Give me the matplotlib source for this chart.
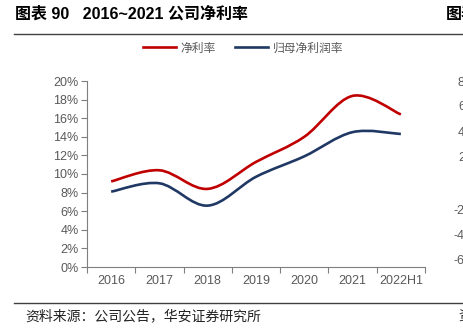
import matplotlib
matplotlib.use('Agg')
import matplotlib.pyplot as plt
from matplotlib.path import Path
from matplotlib.patches import PathPatch
from matplotlib.lines import Line2D

plt.rcParams['font.family'] = ['Liberation Sans', 'Noto Sans CJK SC']

years = ['2016', '2017', '2018', '2019', '2020', '2021', '2022H1']
net_margin = [9.2, 10.4, 8.4, 11.3, 14.0, 18.4, 16.4]        # 净利率, %
parent_margin = [8.1, 9.0, 6.6, 9.7, 11.9, 14.5, 14.3]     # 归母净利润率, %
y_ticks = list(range(0, 21, 2))

red = '#C00000'
navy = '#203864'
grey = '#595959'


def smooth_path(ys):
    # Excel-like smoothed line: cubic bezier through every data point
    n = len(ys)
    pts = [(i, v) for i, v in enumerate(ys)]
    verts = [pts[0]]
    codes = [Path.MOVETO]
    for i in range(n - 1):
        p0 = pts[max(i - 1, 0)]
        p1 = pts[i]
        p2 = pts[i + 1]
        p3 = pts[min(i + 2, n - 1)]
        c1 = (p1[0] + (p2[0] - p0[0]) / 6, p1[1] + (p2[1] - p0[1]) / 6)
        c2 = (p2[0] - (p3[0] - p1[0]) / 6, p2[1] - (p3[1] - p1[1]) / 6)
        verts += [c1, c2, p2]
        codes += [Path.CURVE4] * 3
    return Path(verts, codes)


fig = plt.figure(figsize=(4.63, 3.34), dpi=100)
ax = fig.add_axes([87 / 463, 67 / 334, 338 / 463, 186 / 334])

for ys, c in [(net_margin, red), (parent_margin, navy)]:
    ax.add_patch(PathPatch(smooth_path(ys), fill=False, edgecolor=c,
                           lw=1.9, capstyle='butt'))

ax.set_xlim(-0.5, len(years) - 0.5)
ax.set_ylim(0, 20)
ax.set_yticks(y_ticks)
ax.set_yticklabels([f'{t}%' for t in y_ticks])
ax.set_xticks([i - 0.5 for i in range(len(years) + 1)])
ax.set_xticklabels([])
ax.set_xticks(range(len(years)), minor=True)
ax.set_xticklabels(years, minor=True)
ax.tick_params(axis='x', which='major', length=4, color='#7f7f7f', width=0.8)
ax.tick_params(axis='x', which='minor', length=0, pad=6, labelsize=9, labelcolor=grey)
ax.tick_params(axis='y', length=4, color='#7f7f7f', width=0.8, labelsize=9,
               labelcolor=grey, pad=2)
for s in ['top', 'right']:
    ax.spines[s].set_visible(False)
for s in ['left', 'bottom']:
    ax.spines[s].set_color('#7f7f7f')
    ax.spines[s].set_linewidth(0.8)

handles = [Line2D([], [], color=red, lw=1.9), Line2D([], [], color=navy, lw=1.9)]
fig.legend(handles, ['净利率', '归母净利润率'], loc='center',
           bbox_to_anchor=(243 / 463, 1 - 48 / 334), ncol=2, frameon=False,
           labelcolor=grey, handlelength=2.8, columnspacing=1.6,
           handletextpad=0.4, prop={'family': ['Noto Sans CJK SC'], 'size': 8.5})

# header / footer
fig.text(15 / 463, 1 - 14 / 334, '图表 90   2016~2021 公司净利率', fontsize=11.5,
         fontweight='bold', va='center', ha='left')
fig.text(446 / 463, 1 - 14 / 334, '图表', fontsize=11.5, fontweight='bold',
         va='center', ha='left')
fig.add_artist(Line2D([14 / 463, 1], [1 - 34 / 334] * 2, color='#404040', lw=1.0))
fig.add_artist(Line2D([14 / 463, 1], [1 - 303 / 334] * 2, color='#404040', lw=1.0))
fig.text(25 / 463, 1 - 316 / 334, '资料来源：公司公告，华安证券研究所', fontsize=10,
         va='center', ha='left', color='#222222')
fig.text(458 / 463, 1 - 316 / 334, '资', fontsize=10, va='center', ha='left',
         color='#222222')

# fragment of neighbouring chart's axis, cut by the right edge
for lab, yp in [('8', 83), ('6', 107), ('4', 133), ('2', 158),
                ('-2', 211), ('-4', 236), ('-6', 261)]:
    xp = 454 if lab.startswith('-') else 458
    fig.text(xp / 463, 1 - yp / 334, lab, fontsize=9, color=grey,
             va='center', ha='left')

fig.savefig('out.png', dpi=100)
